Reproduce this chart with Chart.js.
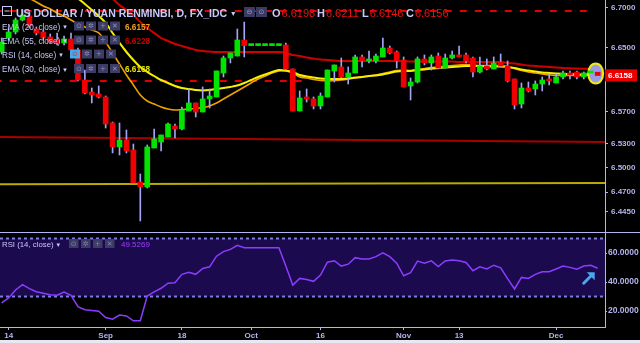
<!DOCTYPE html>
<html><head><meta charset="utf-8">
<script src="https://cdn.jsdelivr.net/npm/chart.js@4.4.1/dist/chart.umd.min.js"></script>
<style>
html,body{margin:0;padding:0;background:#000;width:640px;height:343px;overflow:hidden;}
#main{position:absolute;left:0;top:0;}
#rsi{position:absolute;left:0;top:232px;}
#strip{position:absolute;left:0;top:340px;width:640px;height:3px;background:#e6e8f4;}
</style></head><body>
<canvas id="main" width="640" height="232"></canvas>
<canvas id="rsi" width="640" height="108"></canvas>
<div id="strip"></div>
<script>
// ---------- DATA ----------
const dates = ["Aug 11","Aug 14","Aug 15","Aug 16","Aug 17","Aug 18","Aug 21","Aug 22","Aug 23","Aug 24","Aug 25","Aug 28","Aug 29","Aug 30","Aug 31",
"Sep 1","Sep 4","Sep 5","Sep 6","Sep 7","Sep 8","Sep 11","Sep 12","Sep 13","Sep 14","Sep 15","Sep 18","Sep 19","Sep 20","Sep 21","Sep 22","Sep 25","Sep 26","Sep 27","Sep 28","Sep 29",
"Oct 2","Oct 3","Oct 4","Oct 5","Oct 6","Oct 9","Oct 10","Oct 11","Oct 12","Oct 13","Oct 16","Oct 17","Oct 18","Oct 19","Oct 20","Oct 23","Oct 24","Oct 25","Oct 26","Oct 27","Oct 30","Oct 31",
"Nov 1","Nov 2","Nov 3","Nov 6","Nov 7","Nov 8","Nov 9","Nov 10","Nov 13","Nov 14","Nov 15","Nov 16","Nov 17","Nov 20","Nov 21","Nov 22","Nov 23","Nov 24","Nov 27","Nov 28","Nov 29","Nov 30",
"Dec 1","Dec 4","Dec 5","Dec 6","Dec 7","Dec 8","Dec 11"];

const open = [
6.6450,6.6625,6.6700,6.6850,6.6900,6.6738,6.6700,6.6638,6.6600,6.6563,
6.6613,6.6475,6.6100,6.5950,6.5925,6.5888,6.5563,6.5263,6.5350,6.5225,
6.4825,6.4763,6.5250,6.5325,6.5388,6.5525,6.5488,6.5713,6.5813,6.5700,
6.5863,6.5888,6.6188,6.6375,6.6400,6.6600,6.6530,6.6530,6.6530,6.6530,
6.6530,6.6538,6.6238,6.5713,6.5875,6.5863,6.5775,6.5888,6.6213,6.6263,
6.6138,6.6188,6.6388,6.6338,6.6338,6.6388,6.6500,6.6450,6.6350,6.6025,
6.6075,6.6363,6.6313,6.6400,6.6250,6.6375,6.6400,6.6413,6.6375,6.6200,
6.6275,6.6238,6.6325,6.6275,6.6113,6.5800,6.6000,6.5988,6.6050,6.6100,
6.6063,6.6138,6.6188,6.6200,6.6138,6.6188,6.6198];
const high = [
6.6625,6.6750,6.6875,6.6975,6.6950,6.6763,6.6725,6.6675,6.6688,6.6650,
6.6688,6.6500,6.6225,6.6000,6.6025,6.5900,6.5575,6.5563,6.5475,6.5300,
6.4925,6.5288,6.5488,6.5413,6.5563,6.5550,6.5763,6.5988,6.5813,6.6013,
6.5988,6.6213,6.6400,6.6438,6.6738,6.6825,6.6530,6.6530,6.6530,6.6530,
6.6530,6.6563,6.6238,6.5963,6.5988,6.5888,6.5938,6.6225,6.6288,6.6375,
6.6263,6.6413,6.6413,6.6463,6.6425,6.6625,6.6525,6.6463,6.6388,6.6125,
6.6388,6.6413,6.6413,6.6438,6.6425,6.6463,6.6525,6.6438,6.6388,6.6388,
6.6363,6.6388,6.6425,6.6338,6.6113,6.6063,6.6075,6.6088,6.6138,6.6175,
6.6175,6.6213,6.6213,6.6213,6.6200,6.6225,6.6211];
const low = [
6.6425,6.6600,6.6675,6.6838,6.6750,6.6663,6.6600,6.6563,6.6538,6.6538,
6.6450,6.6088,6.5925,6.5813,6.5875,6.5500,6.5188,6.5163,6.5188,6.4800,
6.4338,6.4750,6.5250,6.5213,6.5388,6.5375,6.5475,6.5713,6.5638,6.5700,
6.5750,6.5888,6.6138,6.6313,6.6400,6.6388,6.6530,6.6530,6.6530,6.6530,
6.6530,6.6225,6.5713,6.5713,6.5825,6.5738,6.5738,6.5888,6.6075,6.6125,
6.6050,6.6188,6.6263,6.6313,6.6313,6.6388,6.6425,6.6250,6.6013,6.5850,
6.6063,6.6288,6.6225,6.6238,6.6250,6.6363,6.6388,6.6313,6.6138,6.6188,
6.6225,6.6238,6.6263,6.6075,6.5738,6.5750,6.5950,6.5913,6.5963,6.6038,
6.6063,6.6113,6.6113,6.6113,6.6113,6.6175,6.6146];
const close = [
6.6575,6.6700,6.6850,6.6913,6.6775,6.6688,6.6625,6.6575,6.6563,6.6613,
6.6475,6.6100,6.5938,6.5913,6.5888,6.5550,6.5263,6.5350,6.5213,6.4813,
6.4763,6.5263,6.5363,6.5413,6.5550,6.5488,6.5725,6.5813,6.5700,6.5863,
6.5900,6.6213,6.6375,6.6438,6.6600,6.6530,6.6530,6.6530,6.6530,6.6530,
6.6530,6.6238,6.5713,6.5875,6.5863,6.5775,6.5900,6.6225,6.6288,6.6138,
6.6188,6.6388,6.6338,6.6350,6.6400,6.6500,6.6438,6.6338,6.6013,6.6075,
6.6363,6.6313,6.6388,6.6250,6.6375,6.6413,6.6388,6.6338,6.6200,6.6275,
6.6238,6.6313,6.6275,6.6088,6.5788,6.6000,6.5963,6.6050,6.6100,6.6088,
6.6138,6.6188,6.6163,6.6138,6.6188,6.6213,6.6156];

const ema20 = [null,null,null,6.7163,6.7119,6.7075,6.7025,6.6988,6.6938,6.6900,
6.6850,6.6800,6.6763,6.6725,6.6688,6.6575,6.6438,6.6300,6.6163,6.6038,
6.5913,6.5838,6.5800,6.5763,6.5738,6.5725,6.5731,6.5738,6.5744,6.5756,
6.5775,6.5813,6.5863,6.5913,6.5963,6.6013,6.6063,6.6113,6.6150,6.6188,
6.6213,6.6213,6.6188,6.6138,6.6125,6.6106,6.6094,6.6088,6.6094,6.6100,
6.6113,6.6125,6.6138,6.6150,6.6163,6.6181,6.6200,6.6219,6.6225,6.6219,
6.6231,6.6244,6.6256,6.6263,6.6275,6.6281,6.6288,6.6294,6.6288,6.6281,
6.6281,6.6281,6.6281,6.6269,6.6244,6.6219,6.6200,6.6188,6.6175,6.6163,
6.6156,6.6156,6.6156,6.6156,6.6159,6.6160,6.6157];
const ema30 = [null,null,null,null,null,null,null,null,null,6.7213,
6.7163,6.7119,6.7050,6.6975,6.6900,6.6813,6.6688,6.6563,6.6450,6.6350,
6.6263,6.6200,6.6150,6.6100,6.6063,6.6025,6.6000,6.5988,6.5975,6.5969,
6.5975,6.5988,6.6000,6.6013,6.6031,6.6063,6.6100,6.6138,6.6169,6.6200,
6.6225,6.6219,6.6200,6.6163,6.6144,6.6131,6.6119,6.6113,6.6113,6.6113,
6.6119,6.6131,6.6138,6.6150,6.6156,6.6169,6.6188,6.6206,6.6213,6.6213,
6.6225,6.6231,6.6244,6.6250,6.6256,6.6263,6.6269,6.6275,6.6275,6.6275,
6.6269,6.6269,6.6269,6.6263,6.6250,6.6231,6.6219,6.6206,6.6194,6.6188,
6.6181,6.6175,6.6173,6.6170,6.6169,6.6169,6.6168];
const ema55 = [null,null,null,null,null,null,null,null,null,null,
null,null,null,6.7275,6.7213,6.7150,6.7113,6.7038,6.6975,6.6913,
6.6825,6.6750,6.6688,6.6625,6.6588,6.6550,6.6525,6.6500,6.6475,6.6463,
6.6456,6.6450,6.6450,6.6450,6.6450,6.6450,6.6450,6.6450,6.6450,6.6450,
6.6450,6.6438,6.6413,6.6400,6.6381,6.6369,6.6356,6.6350,6.6344,6.6338,
6.6338,6.6338,6.6338,6.6338,6.6338,6.6338,6.6338,6.6338,6.6338,6.6331,
6.6331,6.6331,6.6331,6.6331,6.6331,6.6331,6.6325,6.6325,6.6325,6.6325,
6.6325,6.6325,6.6325,6.6313,6.6306,6.6294,6.6281,6.6275,6.6269,6.6263,
6.6256,6.6250,6.6246,6.6244,6.6240,6.6238,6.6228];

const rsi = [25.7,29.0,34.5,38.2,35.5,33.3,32.3,31.3,30.9,33.0,
30.8,23.0,20.9,20.4,19.9,15.5,14.4,17.2,16.6,13.3,
13.3,30.3,33.2,35.7,39.2,39.5,45.3,46.7,45.3,49.4,
50.5,57.8,61.0,62.5,65.3,63.7,63.7,63.7,63.7,63.7,
63.7,51.0,37.9,42.5,41.8,40.5,44.8,53.7,54.7,51.0,
52.3,56.8,55.9,55.9,57.5,60.1,57.5,53.0,44.3,46.5,
54.4,53.0,54.6,50.7,54.5,55.2,54.6,53.5,47.8,50.5,
49.0,51.6,49.8,42.3,35.2,43.2,42.5,45.3,47.1,47.1,
49.0,51.0,50.1,48.8,51.0,51.5,49.53];

const yTicks = [6.7000, 6.6500, 6.5700, 6.5300, 6.5000, 6.4700, 6.4450];
const rsiTicks = [20, 40, 60];
const rsiBand = [30, 70];
const xTickDates = ["Aug 14","Sep 1","Sep 18","Oct 2","Oct 16","Nov 1","Nov 13","Dec 1"];
const xTickText = ["14","Sep","18","Oct","16","Nov","13","Dec"];
const lastPrice = 6.6158;
const markerPrice = 6.6181;
const trendDarkRed = [[-1, 6.5388], [88, 6.5324]];
const trendOlive = [[-1, 6.4796], [88, 6.4813]];
const dashTop = [[-1, 6.6963], [85, 6.6963]];
const dashLow = [[-1, 6.6088], [44, 6.6088]];
const legendValues = {ema20: "6.6157", ema55: "6.6228", ema30: "6.6168", rsi: "49.5269"};

// ---------- SETUP ----------
const FONT = '"Liberation Sans", Arial, sans-serif';
const LAV = '#b4b4f0';
const TXT = '#c8c8f8';
const GREEN = '#00e400', RED = '#f00000';
const XMIN = -0.245, XMAX = 87.055;
const pos = dates.map((d, i) => i);
const last = pos.length - 1;
const xTickPos = xTickDates.map(d => dates.indexOf(d));
const up = close.map((c, i) => c >= open[i]);
const pts = arr => arr.map(([x, y]) => ({x, y}));
Chart.defaults.font.family = FONT;

function iconBox(ctx, x, y, w, h, fill, sym, symColor) {
  ctx.fillStyle = fill; ctx.fillRect(x, y, w, h);
  ctx.fillStyle = symColor; ctx.font = '7px "DejaVu Sans", sans-serif';
  ctx.textAlign = 'center'; ctx.textBaseline = 'middle';
  ctx.fillText(sym, x + w / 2, y + h / 2 + 0.5);
  ctx.textAlign = 'left'; ctx.textBaseline = 'alphabetic';
}

const WICK_INDEX = 7;
const mainOverlay = {
  id: 'mainOverlay',
  beforeDatasetDraw(chart, args) {
    if (args.index !== WICK_INDEX) return;
    const ctx = chart.ctx, xs = chart.scales.x, ys = chart.scales.y;
    const cx = xs.getPixelForValue(last) - 2, cy = ys.getPixelForValue(markerPrice);
    ctx.save();
    ctx.beginPath(); ctx.ellipse(cx, cy, 7.5, 10, 0, 0, Math.PI * 2);
    ctx.fillStyle = '#9c9ce4'; ctx.fill();
    ctx.lineWidth = 2; ctx.strokeStyle = '#f0ec10'; ctx.stroke();
    ctx.restore();
  },
  afterDraw(chart) {
    const ctx = chart.ctx, ys = chart.scales.y;
    ctx.save();
    // header
    ctx.strokeStyle = TXT; ctx.lineWidth = 1;
    ctx.strokeRect(2.5, 6.5, 9, 9);
    ctx.beginPath(); ctx.moveTo(4.5, 11); ctx.lineTo(9.5, 11); ctx.stroke();
    const title = 'US DOLLAR / YUAN RENMINBI, D, FX_IDC';
    ctx.font = 'bold 10.5px ' + FONT; ctx.fillStyle = TXT;
    ctx.fillText(title, 16, 17);
    const tw = ctx.measureText(title).width;
    ctx.font = '8px "DejaVu Sans", sans-serif'; ctx.fillText('▾', 16 + tw + 4, 16);
    iconBox(ctx, 244, 7, 11, 10, '#3a3a62', '⊖', '#9a9ad0');
    iconBox(ctx, 256, 7, 11, 10, '#3a3a62', '⊙', '#9a9ad0');
    const ohlcL = ['O', 'H', 'L', 'C'];
    const ohlcV = [open[last], high[last], low[last], close[last]];
    const ohlcX = [272, 317, 362, 406];
    ohlcL.forEach((l, i) => {
      ctx.font = 'bold 11px ' + FONT; ctx.fillStyle = TXT;
      ctx.fillText(l, ohlcX[i], 17);
      const w = ctx.measureText(l).width;
      ctx.font = '11px ' + FONT; ctx.fillStyle = '#f01010';
      ctx.fillText(ohlcV[i].toFixed(4), ohlcX[i] + w + 1, 17);
    });
    // legend rows
    const rows = [
      {t: 'EMA (20, close)', y: 29.5, v: legendValues.ema20, c: '#f0a020', bx: 74},
      {t: 'EMA (55, close)', y: 43.5, v: legendValues.ema55, c: '#c80000', bx: 74},
      {t: 'RSI (14, close)', y: 57.5, v: null, c: null, bx: 70},
      {t: 'EMA (30, close)', y: 72, v: legendValues.ema30, c: '#e8e800', bx: 74}
    ];
    rows.forEach((r, ri) => {
      ctx.font = '8.2px ' + FONT; ctx.fillStyle = TXT;
      ctx.fillText(r.t, 2, r.y);
      const w = ctx.measureText(r.t).width;
      ctx.font = '7px "DejaVu Sans", sans-serif'; ctx.fillText('▾', 2 + w + 3, r.y - 0.5);
      const syms = ['⊙', '✲', '+', '✕'];
      syms.forEach((s, si) => {
        const isRsiEye = ri === 2 && si === 0;
        iconBox(ctx, r.bx + si * 12, r.y - 8, 10, 9, isRsiEye ? '#48a8e8' : '#3c3c64', s, isRsiEye ? '#e03030' : '#9090c4');
      });
      if (r.v) {
        ctx.font = 'bold 8.2px ' + FONT; ctx.fillStyle = r.c;
        ctx.fillText(r.v, 125, r.y);
      }
    });
    // current price label
    const py = ys.getPixelForValue(lastPrice);
    ctx.fillStyle = '#e80000'; ctx.fillRect(605, py - 6, 32, 12);
    ctx.font = 'bold 8px ' + FONT; ctx.fillStyle = '#ffffff';
    ctx.textBaseline = 'middle'; ctx.fillText(lastPrice.toFixed(4), 608, py + 0.5);
    ctx.restore();
  }
};

new Chart(document.getElementById('main'), {
  type: 'bar',
  data: {
    labels: pos,
    datasets: [
      {type: 'line', data: pts(trendDarkRed), borderColor: '#a80000', borderWidth: 2, pointRadius: 0, order: 12},
      {type: 'line', data: pts(trendOlive), borderColor: '#b8ac00', borderWidth: 2, pointRadius: 0, order: 12},
      {type: 'line', data: pts(dashTop), borderColor: '#e00000', borderWidth: 2, borderDash: [7, 8], pointRadius: 0, order: 11},
      {type: 'line', data: pts(dashLow), borderColor: '#e00000', borderWidth: 2, borderDash: [7, 8], pointRadius: 0, order: 11},
      {type: 'line', data: ema55, borderColor: '#d00000', borderWidth: 2, pointRadius: 0, tension: 0.3, order: 6},
      {type: 'line', data: ema20, borderColor: '#f0a000', borderWidth: 1.6, pointRadius: 0, tension: 0.3, order: 5},
      {type: 'line', data: ema30, borderColor: '#f4f000', borderWidth: 2, pointRadius: 0, tension: 0.3, order: 4},
      {type: 'bar', data: pos.map(i => [low[i], high[i]]), backgroundColor: '#a4a4f4', barThickness: 1, grouped: false, borderWidth: 0, order: 2},
      {type: 'bar', data: pos.map(i => [Math.min(open[i], close[i]), Math.max(open[i], close[i])]),
        backgroundColor: up.map(u => u ? GREEN : RED), barThickness: 5, grouped: false, borderWidth: 0, minBarLength: 2, order: 1}
    ]
  },
  options: {
    responsive: false, animation: false, events: [],
    layout: {padding: 0},
    plugins: {legend: {display: false}, tooltip: {enabled: false}},
    scales: {
      x: {type: 'linear', min: XMIN, max: XMAX, display: false, offset: false},
      y: {
        position: 'right', min: 6.42, max: 6.71,
        afterFit(s) { s.width = 35; s.paddingTop = 0; s.paddingBottom = 0; },
        afterBuildTicks(s) { s.ticks = yTicks.map(v => ({value: v})); },
        ticks: {autoSkip: false, color: LAV, font: {size: 8, weight: 'bold'}, padding: 3, callback: v => Number(v).toFixed(4)},
        grid: {display: true, drawOnChartArea: false, drawTicks: true, tickLength: 3, color: LAV},
        border: {display: true, color: LAV, width: 1}
      }
    }
  },
  plugins: [mainOverlay]
});

const rsiOverlay = {
  id: 'rsiOverlay',
  beforeDatasetsDraw(chart) {
    const ctx = chart.ctx, a = chart.chartArea, ys = chart.scales.y;
    const yHi = ys.getPixelForValue(rsiBand[1]), yLo = ys.getPixelForValue(rsiBand[0]);
    ctx.save();
    ctx.fillStyle = '#1c0a4e'; ctx.fillRect(a.left, yHi, a.right - a.left, yLo - yHi);
    ctx.strokeStyle = '#7c7ce4'; ctx.lineWidth = 2; ctx.setLineDash([3, 3]);
    [yHi, yLo].forEach(y => { ctx.beginPath(); ctx.moveTo(a.left, y); ctx.lineTo(a.right, y); ctx.stroke(); });
    ctx.restore();
  },
  afterDraw(chart) {
    const ctx = chart.ctx, xs = chart.scales.x, ys = chart.scales.y;
    ctx.save();
    ctx.strokeStyle = LAV; ctx.lineWidth = 1;
    ctx.beginPath(); ctx.moveTo(0, 0.5); ctx.lineTo(640, 0.5); ctx.stroke();
    const t = 'RSI (14, close)';
    ctx.font = '7.8px ' + FONT; ctx.fillStyle = TXT;
    ctx.fillText(t, 2, 15);
    const w = ctx.measureText(t).width;
    ctx.font = '7px "DejaVu Sans", sans-serif'; ctx.fillText('▾', 2 + w + 3, 14.5);
    ['⊙', '✲', '+', '✕'].forEach((s, i) => iconBox(ctx, 69 + i * 12, 7, 9.5, 9, '#3c3c64', s, '#8080b4'));
    ctx.font = '8px ' + FONT; ctx.fillStyle = '#9a40ff';
    ctx.fillText(legendValues.rsi, 121, 15);
    // arrow annotation
    const tipX = xs.getPixelForValue(last) - 3, tipY = ys.getPixelForValue(rsi[last]) + 4;
    ctx.strokeStyle = '#4aa8f0'; ctx.fillStyle = '#4aa8f0'; ctx.lineWidth = 3; ctx.lineCap = 'round';
    ctx.beginPath(); ctx.moveTo(tipX - 11, tipY + 11); ctx.lineTo(tipX - 4, tipY + 4); ctx.stroke();
    ctx.beginPath(); ctx.moveTo(tipX, tipY); ctx.lineTo(tipX, tipY + 8); ctx.lineTo(tipX - 8, tipY); ctx.closePath(); ctx.fill();
    ctx.restore();
  }
};

new Chart(document.getElementById('rsi'), {
  type: 'line',
  data: {labels: pos, datasets: [{data: rsi, borderColor: '#8c3cff', borderWidth: 1.5, pointRadius: 0, tension: 0}]},
  options: {
    responsive: false, animation: false, events: [],
    layout: {padding: {top: 1, left: 0, right: 0, bottom: 0}},
    plugins: {legend: {display: false}, tooltip: {enabled: false}},
    scales: {
      x: {
        type: 'linear', min: XMIN, max: XMAX, offset: false,
        afterFit(s) { s.height = 13; s.paddingLeft = 0; s.paddingRight = 0; },
        afterBuildTicks(s) { s.ticks = xTickPos.map(v => ({value: v})); },
        ticks: {autoSkip: false, maxRotation: 0, color: LAV, font: {size: 8, weight: 'bold'}, padding: 1, callback: (v, i) => xTickText[i]},
        grid: {display: true, drawOnChartArea: false, drawTicks: true, tickLength: 3, color: LAV},
        border: {display: true, color: LAV}
      },
      y: {
        position: 'right', min: 9.0, max: 73.8,
        afterFit(s) { s.width = 35; s.paddingTop = 0; s.paddingBottom = 0; },
        afterBuildTicks(s) { s.ticks = rsiTicks.map(v => ({value: v})); },
        ticks: {autoSkip: false, color: LAV, font: {size: 8.5, weight: 'bold'}, padding: 1, callback: v => Number(v).toFixed(4)},
        grid: {display: true, drawOnChartArea: false, drawTicks: true, tickLength: 2, color: LAV},
        border: {display: true, color: LAV}
      }
    }
  },
  plugins: [rsiOverlay]
});
</script>
</body></html>
